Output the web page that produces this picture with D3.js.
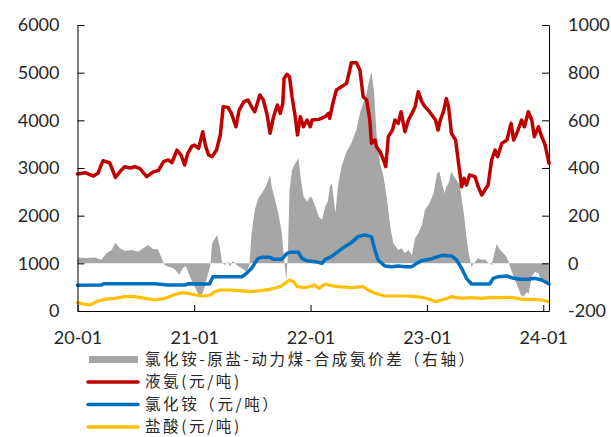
<!DOCTYPE html>
<html>
<head>
<meta charset="utf-8">
<script src="https://cdn.jsdelivr.net/npm/d3@7/dist/d3.min.js"></script>
<style>
  html, body { margin: 0; padding: 0; background: #fff; }
  svg { display: block; }
  .tick text { font-family: Lato, "Open Sans", sans-serif; font-size: 18px; fill: #262626; }
  .legend text { font-family: "Noto Sans CJK SC", sans-serif; font-size: 15.5px; letter-spacing: 2.6px; fill: #262626; }
</style>
</head>
<body>
<svg id="chart" width="611" height="437"></svg>
<script>
// ---------- data ----------
const xTickLabels = ["20-01", "21-01", "22-01", "23-01", "24-01"];
const leftTicks = [0, 1000, 2000, 3000, 4000, 5000, 6000];
const rightTicks = [-200, 0, 200, 400, 600, 800, 1000];
const seriesNames = ["氯化铵-原盐-动力煤-合成氨价差（右轴）", "液氨(元/吨)", "氯化铵（元/吨）", "盐酸(元/吨)"];

// 氯化铵-原盐-动力煤-合成氨价差 (right axis)
const spread = [
  ["2020-01-01", 25], ["2020-01-25", 22], ["2020-02-25", 25], ["2020-03-16", 15], ["2020-04-01", 42],
  ["2020-04-17", 56], ["2020-04-29", 86], ["2020-05-13", 63], ["2020-05-28", 53], ["2020-06-19", 56],
  ["2020-07-09", 49], ["2020-07-25", 63], ["2020-08-09", 77], ["2020-08-26", 59], ["2020-09-09", 59],
  ["2020-09-21", 21], ["2020-09-30", -7], ["2020-10-12", -14], ["2020-10-28", -21], ["2020-11-08", -35],
  ["2020-11-15", -49], ["2020-11-26", -21], ["2020-12-06", -11], ["2020-12-19", -56], ["2020-12-30", -91],
  ["2021-01-05", -105], ["2021-01-20", -147], ["2021-01-31", -112], ["2021-02-11", -56], ["2021-02-21", -7],
  ["2021-02-26", 84], ["2021-03-07", 105], ["2021-03-14", 119], ["2021-03-22", 70], ["2021-03-30", 0],
  ["2021-04-07", -7], ["2021-04-17", 7], ["2021-04-23", -14], ["2021-05-03", 11], ["2021-05-14", -7],
  ["2021-05-30", -21], ["2021-06-14", -35], ["2021-06-23", -7], ["2021-06-30", 126], ["2021-07-10", 224],
  ["2021-07-21", 273], ["2021-08-01", 294], ["2021-08-14", 322], ["2021-08-27", 371], ["2021-09-01", 322],
  ["2021-09-12", 266], ["2021-09-22", 210], ["2021-10-03", 126], ["2021-10-10", 14], ["2021-10-17", -70],
  ["2021-10-22", 42], ["2021-10-27", 308], ["2021-11-04", 392], ["2021-11-14", 420], ["2021-11-24", 441],
  ["2021-12-02", 350], ["2021-12-10", 280], ["2021-12-21", 259], ["2021-12-31", 280], ["2022-01-06", 273],
  ["2022-01-16", 238], ["2022-01-27", 196], ["2022-02-06", 182], ["2022-02-16", 238], ["2022-02-24", 259],
  ["2022-03-03", 322], ["2022-03-09", 336], ["2022-03-20", 210], ["2022-03-28", 322], ["2022-04-08", 406],
  ["2022-04-24", 469], ["2022-05-09", 504], ["2022-05-25", 560], ["2022-06-05", 630], ["2022-06-15", 672],
  ["2022-06-26", 714], ["2022-07-03", 763], ["2022-07-11", 804], ["2022-07-19", 721], ["2022-07-27", 546],
  ["2022-08-07", 420], ["2022-08-18", 364], ["2022-08-29", 266], ["2022-09-08", 154], ["2022-09-18", 84],
  ["2022-10-03", 56], ["2022-10-14", 63], ["2022-10-24", 42], ["2022-11-04", 56], ["2022-11-15", 35],
  ["2022-11-25", 105], ["2022-12-05", 126], ["2022-12-16", 161], ["2022-12-26", 224], ["2023-01-09", 252],
  ["2023-01-22", 294], ["2023-02-02", 378], ["2023-02-09", 385], ["2023-02-17", 336], ["2023-02-26", 294],
  ["2023-03-03", 322], ["2023-03-10", 336], ["2023-03-19", 385], ["2023-03-27", 364], ["2023-04-04", 350],
  ["2023-04-14", 329], ["2023-04-22", 252], ["2023-04-28", 196], ["2023-05-05", 112], ["2023-05-12", 42],
  ["2023-05-21", -14], ["2023-06-01", 7], ["2023-06-11", 21], ["2023-06-22", 14], ["2023-07-02", 17],
  ["2023-07-12", 3], ["2023-07-23", -7], ["2023-08-03", 56], ["2023-08-08", 81], ["2023-08-19", 56],
  ["2023-08-29", 42], ["2023-09-09", 25], ["2023-09-19", -14], ["2023-09-30", -56], ["2023-10-13", -98],
  ["2023-10-23", -133], ["2023-10-31", -140], ["2023-11-11", -119], ["2023-11-15", -133], ["2023-11-26", -56],
  ["2023-12-06", -35], ["2023-12-17", -42], ["2023-12-27", -77], ["2024-01-07", -75], ["2024-01-19", -85]
];

// 液氨 (left axis)
const liquidAmmonia = [
  ["2020-01-01", 2874], ["2020-01-25", 2901], ["2020-02-20", 2832], ["2020-03-05", 2888], ["2020-03-21", 3153],
  ["2020-04-11", 3110], ["2020-04-29", 2804], ["2020-05-18", 2960], ["2020-05-28", 3027], ["2020-06-14", 3000],
  ["2020-06-29", 3027], ["2020-07-15", 2985], ["2020-08-05", 2818], ["2020-08-26", 2920], ["2020-09-11", 2950],
  ["2020-09-27", 3132], ["2020-10-12", 3170], ["2020-10-23", 3110], ["2020-11-08", 3377], ["2020-11-21", 3272],
  ["2020-12-02", 3063], ["2020-12-12", 3307], ["2020-12-25", 3461], ["2021-01-02", 3482], ["2021-01-15", 3412],
  ["2021-01-28", 3762], ["2021-02-05", 3482], ["2021-02-15", 3272], ["2021-02-26", 3237], ["2021-03-12", 3377],
  ["2021-03-24", 3692], ["2021-04-02", 4286], ["2021-04-17", 4272], ["2021-04-28", 4146], ["2021-05-12", 3866],
  ["2021-05-22", 4216], ["2021-06-06", 4391], ["2021-06-19", 4426], ["2021-06-30", 4286], ["2021-07-10", 4181],
  ["2021-07-26", 4531], ["2021-08-06", 4426], ["2021-08-18", 4111], ["2021-08-27", 3727], ["2021-09-07", 4076],
  ["2021-09-19", 4321], ["2021-09-28", 4146], ["2021-10-06", 4356], ["2021-10-10", 4880], ["2021-10-19", 4965],
  ["2021-10-27", 4915], ["2021-11-04", 4496], ["2021-11-14", 4076], ["2021-11-21", 3692], ["2021-11-30", 4076],
  ["2021-12-10", 3866], ["2021-12-21", 4006], ["2021-12-31", 3866], ["2022-01-06", 4006], ["2022-01-27", 4020],
  ["2022-02-16", 4076], ["2022-02-26", 4146], ["2022-03-02", 4041], ["2022-03-12", 4356], ["2022-03-23", 4636],
  ["2022-04-08", 4706], ["2022-04-24", 4776], ["2022-05-04", 5056], ["2022-05-09", 5209], ["2022-05-25", 5209],
  ["2022-06-05", 5056], ["2022-06-15", 4496], ["2022-06-26", 4426], ["2022-07-06", 4006], ["2022-07-11", 3518],
  ["2022-07-22", 3587], ["2022-07-27", 3448], ["2022-08-07", 3342], ["2022-08-18", 3168], ["2022-08-25", 3027],
  ["2022-09-02", 3657], ["2022-09-15", 3797], ["2022-09-23", 4006], ["2022-10-03", 3936], ["2022-10-12", 4181],
  ["2022-10-24", 3762], ["2022-11-04", 4006], ["2022-11-15", 4146], ["2022-11-25", 4286], ["2022-12-05", 4601],
  ["2022-12-16", 4391], ["2022-12-26", 4286], ["2023-01-09", 4181], ["2023-01-28", 4006], ["2023-02-05", 3797],
  ["2023-02-12", 4006], ["2023-02-22", 4181], ["2023-03-03", 4455], ["2023-03-10", 4286], ["2023-03-19", 3727],
  ["2023-04-01", 3587], ["2023-04-09", 3168], ["2023-04-20", 2608], ["2023-04-28", 2783], ["2023-05-05", 2643],
  ["2023-05-15", 2853], ["2023-06-01", 2818], ["2023-06-11", 2608], ["2023-06-22", 2433], ["2023-07-02", 2538],
  ["2023-07-12", 2643], ["2023-07-23", 3168], ["2023-08-03", 3377], ["2023-08-11", 3238], ["2023-08-24", 3517],
  ["2023-09-09", 3587], ["2023-09-22", 3937], ["2023-09-30", 3587], ["2023-10-10", 3727], ["2023-10-25", 4006],
  ["2023-11-03", 3866], ["2023-11-15", 4181], ["2023-11-26", 4006], ["2023-12-04", 3657], ["2023-12-17", 3866],
  ["2023-12-25", 3692], ["2024-01-07", 3482], ["2024-01-19", 3098]
];

// 氯化铵 (left axis)
const ammoniumChloride = [
  ["2020-01-01", 540], ["2020-03-16", 545], ["2020-03-23", 573], ["2020-08-31", 573], ["2020-10-10", 545],
  ["2020-12-03", 545], ["2020-12-12", 570], ["2021-02-18", 566], ["2021-03-01", 720], ["2021-05-30", 720],
  ["2021-06-09", 760], ["2021-06-19", 825], ["2021-06-30", 895], ["2021-07-10", 1000], ["2021-07-21", 1105],
  ["2021-08-01", 1126], ["2021-08-27", 1126], ["2021-09-07", 1084], ["2021-10-03", 1084], ["2021-10-19", 1210],
  ["2021-10-29", 1230], ["2021-11-24", 1230], ["2021-12-05", 1105], ["2021-12-21", 1056], ["2022-01-16", 1035],
  ["2022-02-06", 1000], ["2022-02-16", 1084], ["2022-03-07", 1140], ["2022-03-28", 1245], ["2022-04-18", 1350],
  ["2022-05-09", 1434], ["2022-05-30", 1560], ["2022-06-20", 1595], ["2022-07-11", 1560], ["2022-07-22", 1280],
  ["2022-08-01", 1070], ["2022-08-22", 944], ["2022-09-13", 930], ["2022-10-03", 944], ["2022-10-24", 930],
  ["2022-11-15", 930], ["2022-11-30", 1000], ["2022-12-16", 1056], ["2023-01-09", 1084], ["2023-01-28", 1126],
  ["2023-02-17", 1168], ["2023-03-19", 1154], ["2023-04-04", 1070], ["2023-04-20", 895], ["2023-05-05", 685],
  ["2023-05-21", 566], ["2023-07-17", 566], ["2023-07-28", 685], ["2023-08-13", 720], ["2023-09-09", 734],
  ["2023-09-30", 685], ["2023-10-20", 664], ["2023-11-15", 664], ["2023-12-06", 685], ["2023-12-27", 650],
  ["2024-01-19", 566]
];

// 盐酸 (left axis)
const hydrochloricAcid = [
  ["2020-01-01", 175], ["2020-01-19", 147], ["2020-02-09", 126], ["2020-03-01", 196], ["2020-03-27", 245],
  ["2020-04-27", 266], ["2020-05-28", 301], ["2020-06-29", 301], ["2020-07-31", 266], ["2020-09-01", 231],
  ["2020-10-02", 266], ["2020-10-28", 336], ["2020-11-23", 385], ["2020-12-14", 371], ["2021-01-05", 336],
  ["2021-01-31", 315], ["2021-02-21", 336], ["2021-03-07", 406], ["2021-03-22", 441], ["2021-04-23", 441],
  ["2021-05-24", 427], ["2021-06-25", 406], ["2021-07-26", 427], ["2021-08-27", 455], ["2021-09-28", 511],
  ["2021-10-13", 580], ["2021-10-27", 650], ["2021-11-09", 615], ["2021-11-20", 511], ["2021-12-10", 490],
  ["2021-12-31", 511], ["2022-01-13", 546], ["2022-01-27", 476], ["2022-02-16", 566], ["2022-03-07", 531],
  ["2022-03-28", 511], ["2022-05-09", 490], ["2022-06-15", 511], ["2022-07-01", 441], ["2022-07-22", 371],
  ["2022-08-22", 315], ["2022-09-23", 315], ["2022-10-24", 315], ["2022-11-25", 301], ["2022-12-16", 287],
  ["2023-01-09", 245], ["2023-01-28", 196], ["2023-02-17", 231], ["2023-03-19", 301], ["2023-04-20", 266],
  ["2023-05-21", 280], ["2023-06-22", 266], ["2023-07-23", 287], ["2023-08-24", 280], ["2023-09-24", 287],
  ["2023-10-25", 245], ["2023-11-26", 245], ["2023-12-27", 231], ["2024-01-19", 196]
];

// ---------- chart ----------
const parse = d3.timeParse("%Y-%m-%d");
const svg = d3.select("#chart");
const m = { left: 77.5, right: 549, top: 25, bottom: 311 };

const x = d3.scaleTime()
  .domain([parse("2020-01-01"), parse("2024-01-19")])
  .range([m.left, m.right]);
const yL = d3.scaleLinear().domain([0, 6000]).range([m.bottom, m.top]);
const yR = d3.scaleLinear().domain([-200, 1000]).range([m.bottom, m.top]);

const colors = ["#A6A6A6", "#C00000", "#0070C0", "#FFC000"];

// spread area
svg.append("path")
  .datum(spread)
  .attr("fill", colors[0])
  .attr("d", d3.area()
    .x(d => x(parse(d[0])))
    .y0(yR(0))
    .y1(d => yR(d[1])));

function drawLine(data, color, width) {
  svg.append("path")
    .datum(data)
    .attr("fill", "none")
    .attr("stroke", color)
    .attr("stroke-width", width)
    .attr("stroke-linejoin", "round")
    .attr("stroke-linecap", "round")
    .attr("d", d3.line().x(d => x(parse(d[0]))).y(d => yL(d[1])));
}
drawLine(hydrochloricAcid, colors[3], 3.2);
drawLine(ammoniumChloride, colors[2], 3.5);
drawLine(liquidAmmonia, colors[1], 3.5);

// axes
const tickDates = xTickLabels.map(s => parse("20" + s + "-01"));
const gx = svg.append("g")
  .attr("transform", `translate(0,${m.bottom})`)
  .call(d3.axisBottom(x).tickValues(tickDates).tickFormat(d3.timeFormat("%y-%m"))
    .tickSizeInner(-6).tickSizeOuter(0).tickPadding(20));
const gl = svg.append("g")
  .attr("transform", `translate(${m.left},0)`)
  .call(d3.axisLeft(yL).tickValues(leftTicks).tickFormat(d => String(d))
    .tickSizeInner(-7).tickSizeOuter(0).tickPadding(18));
const gr = svg.append("g")
  .attr("transform", `translate(${m.right},0)`)
  .call(d3.axisRight(yR).tickValues(rightTicks).tickFormat(d => String(d))
    .tickSizeInner(-7).tickSizeOuter(0).tickPadding(19));
[gx, gl, gr].forEach(g => {
  g.select(".domain").attr("stroke", "#000").attr("stroke-width", 1);
  g.selectAll(".tick line").attr("stroke", "#000").attr("stroke-width", 1);
  g.selectAll(".tick text").attr("font-family", null).attr("font-size", null);
});

// legend
const legend = svg.append("g").attr("class", "legend");
const rowY = [359.5, 382, 404.5, 427];
seriesNames.forEach((name, i) => {
  const g = legend.append("g").attr("transform", `translate(0,${rowY[i]})`);
  if (i === 0) {
    g.append("rect").attr("x", 89).attr("y", -3.5).attr("width", 49).attr("height", 7).attr("fill", colors[0]);
  } else {
    g.append("line").attr("x1", 88).attr("x2", 138).attr("y1", 0).attr("y2", 0)
      .attr("stroke", colors[i]).attr("stroke-width", 3.5).attr("stroke-linecap", "round");
  }
  g.append("text").attr("x", 145).attr("y", 0).attr("dy", "0.35em").text(name);
});
</script>
</body>
</html>
